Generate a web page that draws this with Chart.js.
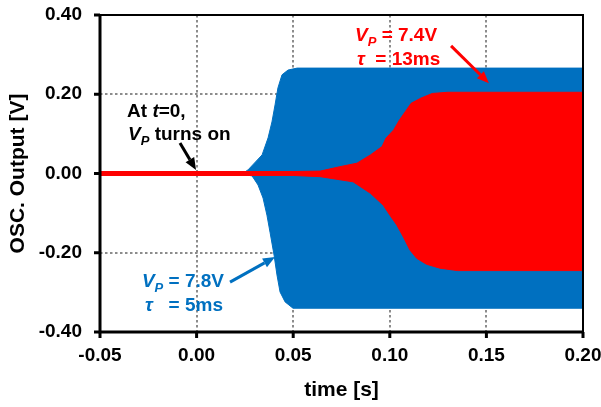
<!DOCTYPE html>
<html>
<head>
<meta charset="utf-8">
<script src="https://cdn.jsdelivr.net/npm/chart.js@4.4.1/dist/chart.umd.min.js"></script>
<style>
  html, body { margin: 0; padding: 0; background: #ffffff; }
  #chart { display: block; }
</style>
</head>
<body>
<canvas id="chart" width="601" height="407"></canvas>
<script>
// --- envelope data (time [s], output [V]) ---
const redUpperT = [-0.05, 0.05, 0.064, 0.074, 0.083, 0.090, 0.096, 0.098, 0.102, 0.105, 0.108, 0.111, 0.116, 0.122, 0.130, 0.20];
const redUpperV = [0.005, 0.005, 0.006, 0.017, 0.026, 0.047, 0.068, 0.089, 0.110, 0.135, 0.156, 0.177, 0.190, 0.202, 0.205, 0.205];
const redLowerT = [-0.05, 0.05, 0.064, 0.081, 0.090, 0.0966, 0.100, 0.1036, 0.107, 0.1104, 0.1139, 0.119, 0.126, 0.135, 0.20];
const redLowerV = [-0.005, -0.005, -0.008, -0.021, -0.050, -0.080, -0.105, -0.130, -0.160, -0.193, -0.214, -0.229, -0.239, -0.245, -0.245];

const blueUpperT = [-0.05, 0.025, 0.0266, 0.0339, 0.037, 0.039, 0.0406, 0.0421, 0.0442, 0.0473, 0.052, 0.20];
const blueUpperV = [0.004, 0.004, 0.009, 0.047, 0.090, 0.130, 0.173, 0.216, 0.249, 0.261, 0.266, 0.266];
const blueLowerT = [-0.05, 0.026, 0.0287, 0.0318, 0.0344, 0.0364, 0.038, 0.0401, 0.0416, 0.0432, 0.0458, 0.0499, 0.20];
const blueLowerV = [-0.004, -0.004, -0.006, -0.029, -0.062, -0.105, -0.148, -0.206, -0.256, -0.299, -0.324, -0.340, -0.340];

const xTicks = [-0.05, 0.00, 0.05, 0.10, 0.15, 0.20];
const yTicks = [-0.40, -0.20, 0.00, 0.20, 0.40];

const RED = '#ff0000';
const BLUE = '#0070c0';
const FONT = '"Liberation Sans", Arial, sans-serif';

function pts(ts, vs) {
    return ts.map((t, i) => ({ x: t, y: vs[i] }));
}

// annotation labels, anchored in data coordinates
const notes = [
    { x: -0.0360, y: 0.143, color: '#000', parts: [{ t: 'At ' }, { t: 't', it: true }, { t: '=0,' }] },
    { x: -0.0355, y: 0.085, color: '#000', parts: [{ t: 'V', it: true }, { t: 'P', it: true, sub: true }, { t: ' turns on' }] },
    { x: 0.0820, y: 0.334, color: RED, parts: [{ t: 'V', it: true }, { t: 'P', it: true, sub: true }, { t: ' = 7.4V' }] },
    { x: 0.0830, y: 0.274, color: RED, parts: [{ t: 'τ', it: true }, { t: '  = 13ms' }] },
    { x: -0.0283, y: -0.287, color: BLUE, parts: [{ t: 'V', it: true }, { t: 'P', it: true, sub: true }, { t: ' = 7.8V' }] },
    { x: -0.0267, y: -0.346, color: BLUE, parts: [{ t: 'τ', it: true }, { t: '   = 5ms' }] }
];
const arrows = [
    { x1: -0.0086, y1: 0.077, x2: -0.0003, y2: 0.009, color: '#000' },
    { x1: 0.1317, y1: 0.322, x2: 0.1513, y2: 0.228, color: RED },
    { x1: 0.0173, y1: -0.274, x2: 0.0406, y2: -0.211, color: BLUE }
];

function drawRich(ctx, x, y, parts, color) {
    let cx = x;
    ctx.fillStyle = color;
    ctx.textBaseline = 'alphabetic';
    ctx.textAlign = 'left';
    parts.forEach(p => {
        const size = p.sub ? 13 : 19;
        ctx.font = (p.it ? 'italic ' : '') + 'bold ' + size + 'px ' + FONT;
        ctx.fillText(p.t, cx, y + (p.sub ? 5 : 0));
        cx += ctx.measureText(p.t).width;
    });
}

function drawArrow(ctx, x1, y1, x2, y2, color) {
    const ang = Math.atan2(y2 - y1, x2 - x1);
    const head = 12, half = 5;
    const bx = x2 - head * Math.cos(ang), by = y2 - head * Math.sin(ang);
    ctx.strokeStyle = color;
    ctx.fillStyle = color;
    ctx.lineWidth = 3;
    ctx.beginPath();
    ctx.moveTo(x1, y1);
    ctx.lineTo(bx, by);
    ctx.stroke();
    ctx.beginPath();
    ctx.moveTo(x2, y2);
    ctx.lineTo(bx + half * Math.sin(ang), by - half * Math.cos(ang));
    ctx.lineTo(bx - half * Math.sin(ang), by + half * Math.cos(ang));
    ctx.closePath();
    ctx.fill();
}

const decor = {
    id: 'decor',
    beforeDatasetsDraw(chart) {
        const { ctx, chartArea: a, scales: { x, y } } = chart;
        ctx.save();
        ctx.strokeStyle = '#8c8c8c';
        ctx.lineWidth = 2;
        ctx.setLineDash([2.5, 2.5]);
        xTicks.slice(1, -1).forEach(v => {
            const px = Math.round(x.getPixelForValue(v));
            ctx.beginPath(); ctx.moveTo(px, a.top); ctx.lineTo(px, a.bottom); ctx.stroke();
        });
        yTicks.slice(1, -1).forEach(v => {
            const py = Math.round(y.getPixelForValue(v));
            ctx.beginPath(); ctx.moveTo(a.left, py); ctx.lineTo(a.right, py); ctx.stroke();
        });
        ctx.restore();
    },
    afterDatasetsDraw(chart) {
        const { ctx, chartArea: a, scales: { x, y } } = chart;
        ctx.save();
        ctx.setLineDash([]);
        ctx.strokeStyle = '#000';
        // top and right border
        ctx.lineWidth = 2;
        ctx.beginPath();
        ctx.moveTo(a.left, a.top); ctx.lineTo(a.right, a.top); ctx.lineTo(a.right, a.bottom);
        ctx.stroke();
        // main axes
        ctx.lineWidth = 3;
        ctx.beginPath();
        ctx.moveTo(a.left, a.top - 1); ctx.lineTo(a.left, a.bottom); ctx.lineTo(a.right + 1, a.bottom);
        ctx.stroke();
        // outward tick marks
        yTicks.forEach(v => {
            const py = y.getPixelForValue(v);
            ctx.beginPath(); ctx.moveTo(a.left - 6, py); ctx.lineTo(a.left, py); ctx.stroke();
        });
        xTicks.forEach(v => {
            const px = x.getPixelForValue(v);
            ctx.beginPath(); ctx.moveTo(px, a.bottom); ctx.lineTo(px, a.bottom + 6); ctx.stroke();
        });

        arrows.forEach(r => drawArrow(ctx, x.getPixelForValue(r.x1), y.getPixelForValue(r.y1),
            x.getPixelForValue(r.x2), y.getPixelForValue(r.y2), r.color));
        notes.forEach(n => drawRich(ctx, x.getPixelForValue(n.x), y.getPixelForValue(n.y), n.parts, n.color));
        ctx.restore();
    }
};

const fmt = v => (Math.abs(v) < 1e-9 ? 0 : v).toFixed(2);

new Chart(document.getElementById('chart'), {
    type: 'line',
    data: {
        datasets: [
            { data: pts(redUpperT, redUpperV), borderColor: RED, backgroundColor: RED, fill: '+1', borderWidth: 1 },
            { data: pts(redLowerT, redLowerV), borderColor: RED, backgroundColor: RED, fill: false, borderWidth: 1 },
            { data: pts(blueUpperT, blueUpperV), borderColor: BLUE, backgroundColor: BLUE, fill: '+1', borderWidth: 1 },
            { data: pts(blueLowerT, blueLowerV), borderColor: BLUE, backgroundColor: BLUE, fill: false, borderWidth: 1 }
        ]
    },
    options: {
        responsive: false,
        animation: false,
        events: [],
        layout: { padding: { top: 15, right: 18, left: 0, bottom: 0 } },
        elements: { point: { radius: 0 }, line: { tension: 0 } },
        plugins: { legend: { display: false }, tooltip: { enabled: false } },
        scales: {
            x: {
                type: 'linear',
                min: -0.05, max: 0.2,
                afterBuildTicks: s => { s.ticks = xTicks.map(v => ({ value: v })); },
                afterFit: s => { s.height = 75; s.paddingLeft = 0; s.paddingRight = 0; },
                grid: { display: false, drawTicks: false },
                border: { display: false },
                ticks: {
                    color: '#000', padding: 12, maxRotation: 0,
                    font: { family: FONT, size: 19, weight: 'bold' },
                    callback: v => fmt(v)
                },
                title: {
                    display: true, text: 'time [s]', color: '#000',
                    font: { family: FONT, size: 21, weight: 'bold' },
                    padding: { top: 0, bottom: 4 }
                }
            },
            y: {
                min: -0.4, max: 0.4,
                afterBuildTicks: s => { s.ticks = yTicks.map(v => ({ value: v })); },
                afterFit: s => { s.width = 100; s.paddingTop = 0; s.paddingBottom = 0; },
                grid: { display: false, drawTicks: false },
                border: { display: false },
                ticks: {
                    color: '#000', padding: 18,
                    font: { family: FONT, size: 19, weight: 'bold' },
                    callback: v => fmt(v)
                },
                title: {
                    display: true, text: 'OSC. Output [V]', color: '#000',
                    font: { family: FONT, size: 21, weight: 'bold' },
                    padding: { top: 6, bottom: 0 }
                }
            }
        }
    },
    plugins: [decor]
});
</script>
</body>
</html>
